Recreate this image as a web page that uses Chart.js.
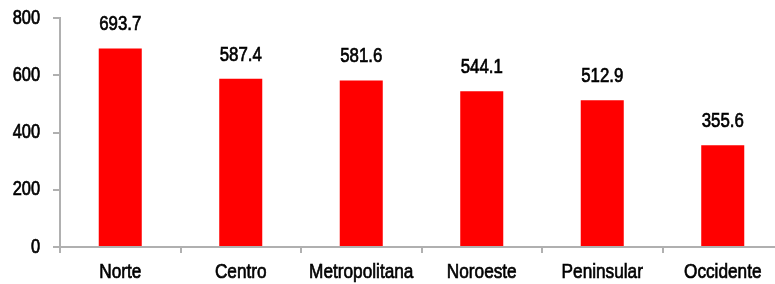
<!DOCTYPE html>
<html><head><meta charset="utf-8">
<script src="https://cdn.jsdelivr.net/npm/chart.js@4/dist/chart.umd.min.js"></script>
<style>html,body{margin:0;padding:0;overflow:hidden;background:#fff;width:775px;height:284px}#w{width:783px;height:284px}</style>
</head><body><div id="w"><canvas id="c" width="783" height="284"></canvas></div>
<script>
const categories = ["Norte","Centro","Metropolitana","Noroeste","Peninsular","Occidente"];
const values = [693.7,587.4,581.6,544.1,512.9,355.6];
const yTicks = [0,200,400,600,800];
const FONT = "'Liberation Sans',Arial,sans-serif";
const NARROW = 0.82;
function narrowText(ctx, text, x, y, font, align){
  ctx.save();
  ctx.font = font; ctx.fillStyle = "#000"; ctx.strokeStyle = "#000"; ctx.lineWidth = 0.7;
  ctx.textAlign = align; ctx.textBaseline = "middle";
  ctx.translate(x, y); ctx.scale(NARROW, 1);
  ctx.fillText(text, 0, 0);
  ctx.strokeText(text, 0, 0);
  ctx.restore();
}
const textPlugin = {
  id:'txt',
  afterDraw(chart){
    const ctx=chart.ctx; const meta=chart.getDatasetMeta(0);
    const xs=chart.scales.x, ys=chart.scales.y;
    meta.data.forEach((b,i)=>{ narrowText(ctx, values[i].toFixed(1), b.x, b.y-24, "20.5px "+FONT, "center"); });
    categories.forEach((c,i)=>{ narrowText(ctx, c, xs.getPixelForTick(i), 272, "21px "+FONT, "center"); });
    yTicks.forEach(v=>{ narrowText(ctx, String(v), 40, ys.getPixelForValue(v), "20px "+FONT, "right"); });
  }
};
new Chart(document.getElementById('c'),{
  type:'bar',
  data:{labels:categories,datasets:[{data:values,backgroundColor:'#ff0000',barPercentage:0.357,categoryPercentage:1}]},
  plugins:[textPlugin],
  options:{
    responsive:false,animation:false,
    layout:{padding:{top:18,right:0,left:0,bottom:0}},
    plugins:{legend:{display:false},tooltip:{enabled:false}},
    scales:{
      x:{
        grid:{display:true,drawOnChartArea:false,offset:true,tickLength:6,color:'#b0b0b0',lineWidth:2},
        border:{color:'#b0b0b0',width:2},
        ticks:{display:false},
        afterFit(s){s.height=37;}
      },
      y:{
        min:0,max:800,
        afterBuildTicks(s){s.ticks=yTicks.map(v=>({value:v}));},
        grid:{display:true,drawOnChartArea:false,tickLength:7,color:'#b0b0b0',lineWidth:2},
        border:{color:'#b0b0b0',width:2},
        ticks:{display:false},
        afterFit(s){s.width=60;}
      }
    }
  }
});
</script></body></html>
